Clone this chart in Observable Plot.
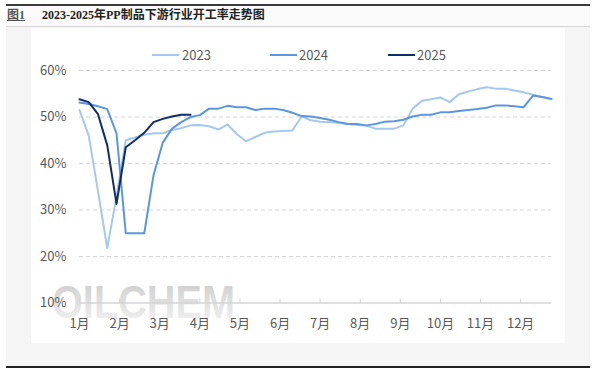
<!DOCTYPE html>
<html>
<head>
<meta charset="utf-8">
<script src="https://cdn.jsdelivr.net/npm/d3@7"></script>
<script src="https://cdn.jsdelivr.net/npm/@observablehq/plot@0.6"></script>
<style>
  body { margin: 0; background: #fff; }
  #wrap { position: relative; width: 600px; height: 371px; overflow: hidden; font-family: "Noto Sans CJK SC", "Open Sans", sans-serif; }
  .abs { position: absolute; }
  .leg { position: absolute; font-size: 13px; color: #595959; line-height: 16px; top: 47px; }
  .sw { position: absolute; height: 2px; top: 54px; }
</style>
</head>
<body>
<div id="wrap">
  <div class="abs" style="left:6px;top:4px;width:584px;height:2px;background:#3a3a3a"></div>
  <div class="abs" style="left:6px;top:6px;width:584px;height:20px;background:#fafafa"></div>
  <div class="abs" style="left:7px;top:8px;font-family:'Liberation Serif','Noto Sans CJK SC',serif;font-weight:bold;font-size:12px;line-height:15px;color:#555;text-decoration:underline;">图1</div>
  <div id="title" class="abs" style="left:42px;top:8px;font-family:'Liberation Serif','Noto Sans CJK SC',serif;font-weight:bold;font-size:12px;line-height:15px;color:#222;"></div>
  <div class="abs" style="left:6px;top:26px;width:584px;height:1px;background:#d6d6d6"></div>
  <div class="abs" style="left:6px;top:27px;width:584px;height:339px;background:#f5f5f5"></div>
  <div class="abs" style="left:31px;top:28px;width:534px;height:315px;background:#fff"></div>
  <svg class="abs" style="left:0;top:0" width="600" height="371">
    <defs>
      <linearGradient id="wm" x1="0" y1="0" x2="0" y2="1">
        <stop offset="0" stop-color="#c9c9c9"/>
        <stop offset="1" stop-color="#f6f6f6"/>
      </linearGradient>
    </defs>
    <text id="wmtext" x="52" y="318" font-family="Liberation Sans, sans-serif" font-size="46" font-weight="bold" fill="url(#wm)" textLength="183" lengthAdjust="spacingAndGlyphs"></text>
  </svg>
  <div id="chart" class="abs" style="left:31px;top:28px"></div>
  <div id="legend"></div>
  <div class="abs" style="left:6px;top:366px;width:584px;height:2px;background:#222"></div>
</div>
<script>
const titleText = "2023-2025年PP制品下游行业开工率走势图";
const watermark = "OILCHEM";
const seriesNames = ["2023", "2024", "2025"];
const seriesColors = ["#a4c8f0", "#5b96e1", "#0f2d69"];
const monthLabels = ["1月","2月","3月","4月","5月","6月","7月","8月","9月","10月","11月","12月"];
const yTicks = [10, 20, 30, 40, 50, 60];

// weekly operating rate (%), week index 0..51
const v2023 = [51.5,46.0,34.0,21.8,33.0,45.0,45.6,46.2,46.5,46.5,47.2,47.6,48.2,48.3,48.0,47.3,48.4,46.3,44.8,45.7,46.6,46.9,47.0,47.1,50.1,49.3,49.0,48.9,48.7,48.5,48.3,48.1,47.5,47.5,47.5,48.2,51.8,53.5,53.8,54.2,53.2,54.9,55.5,56.0,56.4,56.1,56.1,55.7,55.3,54.8,54.3,53.8];
const v2024 = [53.1,52.8,52.3,51.7,46.5,25.0,25.0,25.0,37.5,44.5,47.5,48.9,50.0,50.4,51.8,51.8,52.4,52.1,52.1,51.5,51.8,51.8,51.5,50.9,50.2,50.1,49.8,49.4,48.9,48.5,48.5,48.2,48.5,49.0,49.1,49.4,50.1,50.5,50.5,51.0,51.0,51.3,51.5,51.7,52.0,52.5,52.5,52.3,52.1,54.6,54.3,53.9];
const v2025 = [53.8,53.2,50.6,43.9,31.3,43.5,45.0,46.6,48.9,49.6,50.1,50.5,50.5];

document.getElementById("title").textContent = titleText;
document.getElementById("wmtext").textContent = watermark;

const series = [v2023, v2024, v2025];
const rows = [];
series.forEach((vals, s) => vals.forEach((v, i) => rows.push({year: seriesNames[s], week: i, value: v})));

const monthPos = monthLabels.map((m, i) => i * 52 / 12);
const gridTicks = yTicks.filter(t => t > 10);

const chart = Plot.plot({
  width: 534,
  height: 315,
  marginLeft: 48,
  marginRight: 14,
  marginTop: 42,
  marginBottom: 40.5,
  style: {background: "transparent", fontFamily: "'Noto Sans CJK SC', sans-serif"},
  x: {domain: [0, 51], axis: null},
  y: {domain: [10, 60], axis: null},
  color: {domain: seriesNames, range: seriesColors},
  marks: [
    Plot.ruleY(gridTicks, {y: d => d, stroke: "#d4d4d4", strokeWidth: 1, strokeDasharray: "4,3"}),
    Plot.ruleY([10], {y: d => d, stroke: "#d4d4d4", strokeWidth: 1.5}),
    Plot.ruleX(monthPos, {x: d => d, y1: 10, y2: 10.86, stroke: "#d4d4d4", strokeWidth: 1}),
    Plot.text(yTicks, {y: d => d, text: d => d + "%", frameAnchor: "left", dx: -13, textAnchor: "end", fontSize: 13, fill: "#595959"}),
    Plot.text(monthLabels, {x: (d, i) => monthPos[i], text: d => d, frameAnchor: "bottom", dy: 20.5, lineAnchor: "middle", fontSize: 13, fill: "#595959"}),
    Plot.line(rows, {x: "week", y: "value", z: "year", stroke: "year", strokeWidth: 2})
  ]
});
document.getElementById("chart").appendChild(chart);

// legend
const legX = [[152, 182], [270, 299], [388, 417]];
const legend = document.getElementById("legend");
seriesNames.forEach((name, i) => {
  const sw = document.createElement("div");
  sw.className = "sw";
  sw.style.left = legX[i][0] + "px";
  sw.style.width = "27px";
  sw.style.background = seriesColors[i];
  legend.appendChild(sw);
  const t = document.createElement("div");
  t.className = "leg";
  t.style.left = legX[i][1] + "px";
  t.textContent = name;
  legend.appendChild(t);
});
</script>
</body>
</html>
